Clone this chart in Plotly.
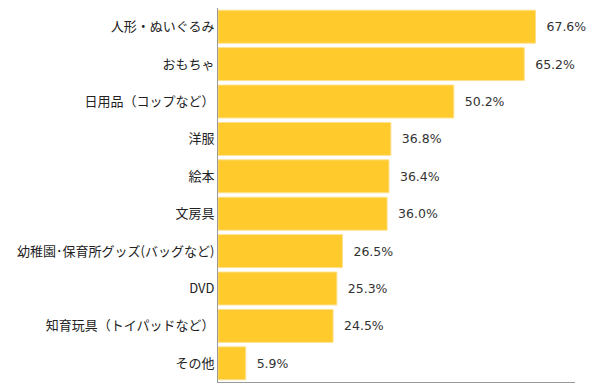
import plotly.graph_objects as go

categories = ["人形・ぬいぐるみ", "おもちゃ", "日用品（コップなど）", "洋服", "絵本", "文房具",
              "幼稚園･保育所グッズ(バッグなど)", "DVD", "知育玩具（トイパッドなど）", "その他"]
values = [67.6, 65.2, 50.2, 36.8, 36.4, 36.0, 26.5, 25.3, 24.5, 5.9]
labels = [f"  {v:.1f}%" for v in values]

fig = go.Figure(go.Bar(
    x=values, y=categories, orientation="h",
    marker=dict(color="#FFCA2C", line=dict(color="#FFE08A", width=1)),
    text=labels, textposition="outside", cliponaxis=False,
    textfont=dict(family="DejaVu Sans", size=12.5, color="#333333"),
))
# page body has an 8px default margin; figure sized/offset to compensate
fig.update_layout(
    width=592, height=384, margin=dict(l=210, r=25, t=0, b=10, autoexpand=False),
    paper_bgcolor="white", plot_bgcolor="white", showlegend=False,
    bargap=0.12,
    font=dict(family="Noto Sans CJK JP", size=13, color="#222222"),
)
fig.update_xaxes(range=[0, 76], showgrid=False, showticklabels=False, ticks="",
                 showline=True, linecolor="#999999", linewidth=1, zeroline=False,
                 automargin=False)
fig.update_yaxes(autorange="reversed", showgrid=False, ticks="", showline=True,
                 linecolor="#999999", linewidth=1, ticklabelstandoff=0, automargin=False,
                 tickfont=dict(family="Noto Sans CJK JP", size=13, color="#222222"))
fig.write_html("out.html")
